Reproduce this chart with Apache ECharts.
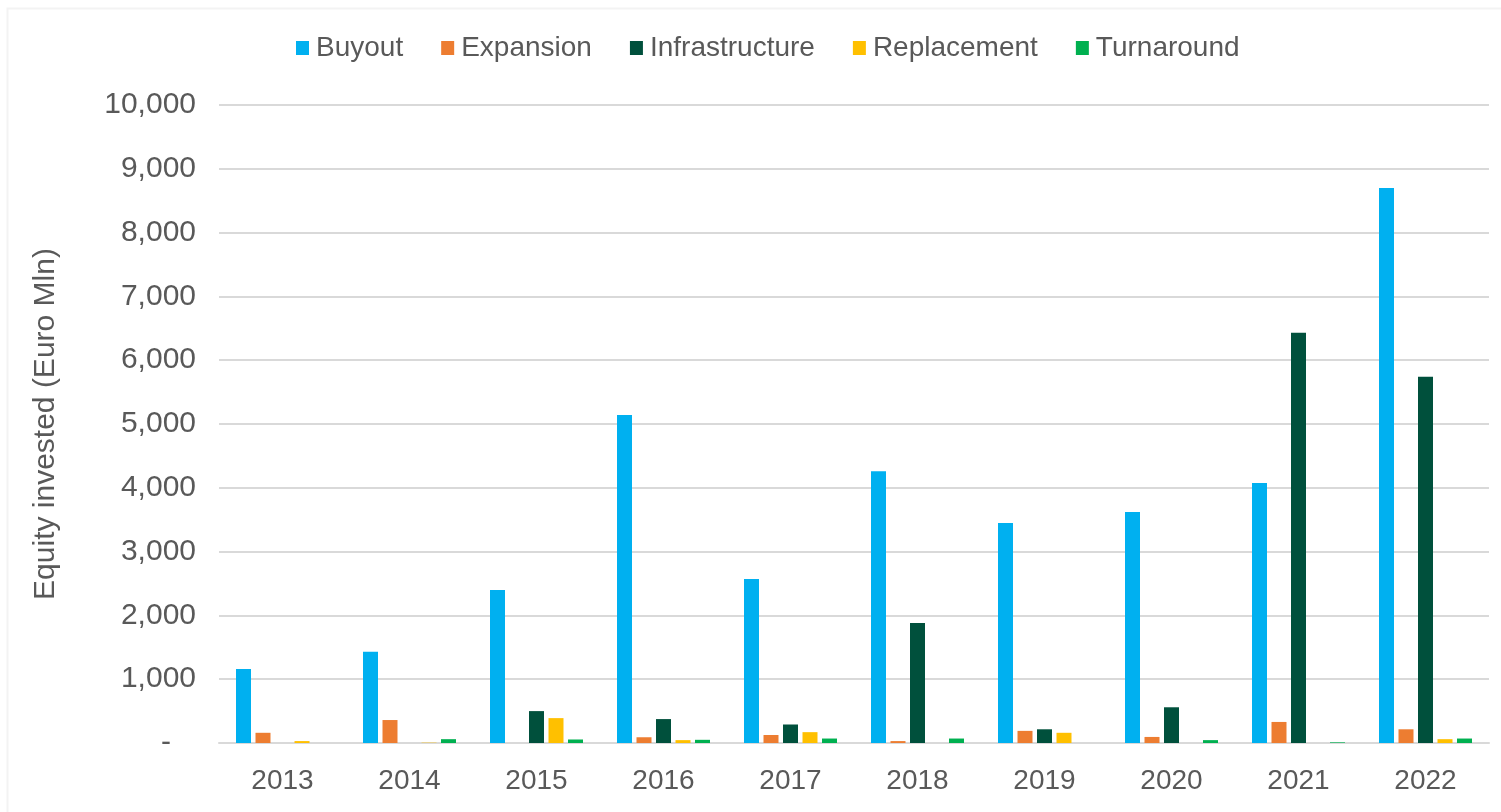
<!DOCTYPE html>
<html>
<head>
<meta charset="utf-8">
<script src="https://cdn.jsdelivr.net/npm/echarts@6/dist/echarts.min.js"></script>
<style>
html, body { margin: 0; padding: 0; background: #fff; }
#chart { width: 1501px; height: 812px; }
</style>
</head>
<body>
<div id="chart"></div>
<script>
var years = ['2013', '2014', '2015', '2016', '2017', '2018', '2019', '2020', '2021', '2022'];
var buyout = [1160, 1430, 2400, 5140, 2570, 4260, 3450, 3620, 4075, 8700];
var expansion = [160, 360, 0, 90, 125, 30, 190, 95, 330, 215];
var infrastructure = [0, 0, 500, 375, 290, 1880, 215, 560, 6430, 5740];
var replacement = [30, 5, 390, 45, 170, 0, 160, 0, 0, 60];
var turnaround = [0, 60, 55, 50, 70, 70, 0, 45, 10, 70];

var dom = document.getElementById('chart');
var myChart = echarts.init(dom);

var textColor = '#595959';
var font = 'Liberation Sans, Arial, sans-serif';

function bar(name, data, color) {
    return {
        name: name,
        type: 'bar',
        data: data,
        barWidth: 15,
        barGap: '30%',
        itemStyle: { color: color }
    };
}

var option = {
    backgroundColor: '#fff',
    animation: false,
    // faint outer chart border
    graphic: [{
        type: 'rect',
        left: 5,
        top: 6,
        shape: { width: 1520, height: 820 },
        style: { fill: 'none', stroke: '#f3f3f3', lineWidth: 2 },
        silent: true
    }],
    legend: {
        left: 291,
        top: 29,
        itemWidth: 13,
        itemHeight: 14,
        itemGap: 38,
        icon: 'rect',
        textStyle: { color: textColor, fontSize: 28, fontFamily: font, padding: [0, 0, 0, 2] }
    },
    grid: {
        left: 219,
        right: 12,
        top: 105,
        bottom: 69,
        containLabel: false
    },
    xAxis: {
        type: 'category',
        data: years,
        axisTick: { show: false },
        axisLine: { lineStyle: { color: '#d9d9d9', width: 2 } },
        axisLabel: { color: textColor, fontSize: 28, fontFamily: font, margin: 24 }
    },
    yAxis: {
        type: 'value',
        min: 0,
        max: 10000,
        interval: 1000,
        name: 'Equity invested (Euro Mln)',
        nameLocation: 'middle',
        nameGap: 158,
        nameTextStyle: { color: textColor, fontSize: 30, fontFamily: font },
        axisLine: { show: false },
        axisTick: { show: false },
        splitLine: { lineStyle: { color: '#d9d9d9', width: 2 } },
        axisLabel: {
            color: textColor,
            fontSize: 30,
            fontFamily: font,
            margin: 23,
            formatter: function (v) {
                return v === 0 ? '-   ' : v.toLocaleString('en-US');
            }
        }
    },
    series: [
        bar('Buyout', buyout, '#00B0F0'),
        bar('Expansion', expansion, '#ED7D31'),
        bar('Infrastructure', infrastructure, '#00503C'),
        bar('Replacement', replacement, '#FFC000'),
        bar('Turnaround', turnaround, '#00B050')
    ]
};

if (option && typeof option === 'object') {
    myChart.setOption(option, true);
}
</script>
</body>
</html>
